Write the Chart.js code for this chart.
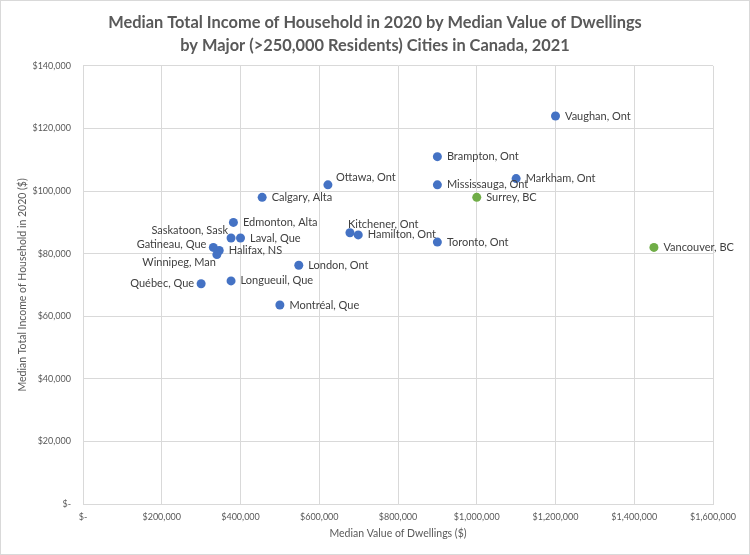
<!DOCTYPE html>
<html>
<head>
<meta charset="utf-8">
<script src="https://cdn.jsdelivr.net/npm/chart.js@4.4.1/dist/chart.umd.min.js"></script>
<style>
  html, body { margin: 0; padding: 0; background: #fff; }
  #wrap { width: 750px; height: 555px; }
</style>
</head>
<body>
<div id="wrap"><canvas id="chart" width="750" height="555"></canvas></div>
<script>
// Values
const cities = [
  'Vaughan, Ont', 'Brampton, Ont', 'Markham, Ont', 'Mississauga, Ont', 'Ottawa, Ont',
  'Surrey, BC', 'Calgary, Alta', 'Edmonton, Alta', 'Saskatoon, Sask', 'Laval, Que',
  'Kitchener, Ont', 'Hamilton, Ont', 'Toronto, Ont', 'Vancouver, BC', 'Gatineau, Que',
  'Halifax, NS', 'Winnipeg, Man', 'London, Ont', 'Longueuil, Que', 'Québec, Que',
  'Montréal, Que'
];
const dwellingValues = [
  1200000, 900000, 1100000, 900000, 622000,
  1000000, 455000, 382000, 376000, 400000,
  678000, 699000, 900000, 1450000, 331000,
  346000, 340000, 548000, 376000, 300000,
  500000
];
const householdIncomes = [
  124000, 111000, 104000, 102000, 102000,
  98000, 98000, 90000, 85000, 85000,
  86700, 86000, 83700, 82000, 82000,
  81000, 79700, 76300, 71300, 70400,
  63600
];
const xTicks = [0, 200000, 400000, 600000, 800000, 1000000, 1200000, 1400000, 1600000];
const yTicks = [0, 20000, 40000, 60000, 80000, 100000, 120000, 140000];

const BLUE = '#4472C4';
const GREEN = '#70AD47';
const TEXT = '#595959';
const GRID = '#d9d9d9';

// label placement relative to the point (default: right of it)
const labelPlacement = {
  'Ottawa, Ont': { dx: 8, dy: -7.5, align: 'left' },
  'Kitchener, Ont': { dx: -2, dy: -8.5, align: 'left' },
  'Saskatoon, Sask': { dx: -3, dy: -8, align: 'right' },
  'Gatineau, Que': { dx: -7, dy: -2.5, align: 'right' },
  'Winnipeg, Man': { dx: -1, dy: 7.5, align: 'right' },
  'Québec, Que': { dx: -7, dy: 0, align: 'right' }
};

function money(v) {
  return v === 0 ? '$-' : '$' + v.toLocaleString('en-US');
}

const points = cities.map((c, i) => ({ x: dwellingValues[i], y: householdIncomes[i] }));
const pointColors = cities.map(c => c.endsWith(', BC') ? GREEN : BLUE);

// Draws the city name next to each point
const cityLabels = {
  id: 'cityLabels',
  afterDatasetsDraw(chart) {
    const ctx = chart.ctx;
    ctx.save();
    ctx.font = '11px Lato';
    ctx.fillStyle = '#404040';
    ctx.textBaseline = 'middle';
    chart.getDatasetMeta(0).data.forEach((pt, i) => {
      const p = labelPlacement[cities[i]] || { dx: 9.5, dy: 0, align: 'left' };
      ctx.textAlign = p.align;
      ctx.fillText(cities[i], pt.x + p.dx, pt.y + p.dy);
    });
    ctx.restore();
  }
};

// White background and the thin outer frame
const frame = {
  id: 'frame',
  beforeDraw(chart) {
    const ctx = chart.ctx;
    ctx.save();
    ctx.fillStyle = '#fff';
    ctx.fillRect(0, 0, chart.width, chart.height);
    ctx.strokeStyle = GRID;
    ctx.lineWidth = 1;
    ctx.strokeRect(0.5, 0.5, chart.width - 1, chart.height - 1);
    ctx.restore();
  }
};

new Chart(document.getElementById('chart').getContext('2d'), {
  type: 'scatter',
  data: {
    datasets: [{
      label: 'Cities',
      data: points,
      pointRadius: 4.5,
      pointHoverRadius: 4.5,
      pointBackgroundColor: pointColors,
      pointBorderColor: pointColors,
      pointBorderWidth: 0
    }]
  },
  options: {
    responsive: false,
    animation: false,
    devicePixelRatio: 1,
    layout: { padding: 0 },
    plugins: {
      legend: { display: false },
      tooltip: { enabled: false },
      title: {
        display: true,
        text: [
          'Median Total Income of Household in 2020 by Median Value of Dwellings',
          'by Major (>250,000 Residents) Cities in Canada, 2021'
        ],
        color: TEXT,
        font: { family: 'Lato', size: 16.4, weight: 'bold', lineHeight: 1.4 },
        padding: { top: 11, bottom: 9 }
      }
    },
    scales: {
      x: {
        type: 'linear',
        min: 0,
        max: 1600000,
        afterBuildTicks(s) { s.ticks = xTicks.map(v => ({ value: v })); },
        afterFit(s) { s.height = 51; },
        grid: { color: GRID, drawTicks: false },
        border: { color: GRID },
        ticks: {
          color: TEXT,
          padding: 8,
          maxRotation: 0,
          font: { family: 'Lato', size: 9 },
          callback: v => money(v)
        },
        title: {
          display: true,
          text: 'Median Value of Dwellings ($)',
          color: TEXT,
          font: { family: 'Lato', size: 10.5 },
          padding: { top: 0, bottom: 15 }
        }
      },
      y: {
        type: 'linear',
        min: 0,
        max: 140000,
        afterBuildTicks(s) { s.ticks = yTicks.map(v => ({ value: v })); },
        afterFit(s) { s.width = 83; },
        grid: { color: GRID, drawTicks: false },
        border: { color: GRID },
        ticks: {
          color: TEXT,
          padding: 12,
          font: { family: 'Lato', size: 9 },
          callback: v => money(v)
        },
        title: {
          display: true,
          text: 'Median Total Income of Household in 2020 ($)',
          color: TEXT,
          font: { family: 'Lato', size: 10.5 },
          padding: { top: 16, bottom: 0 }
        }
      },
      // empty right-hand spacer so the plot ends where the reference does
      spacer: {
        type: 'linear',
        position: 'right',
        display: true,
        afterFit(s) { s.width = 37; },
        grid: { display: false },
        border: { display: false },
        ticks: { display: false }
      }
    }
  },
  plugins: [frame, cityLabels]
});
</script>
</body>
</html>
